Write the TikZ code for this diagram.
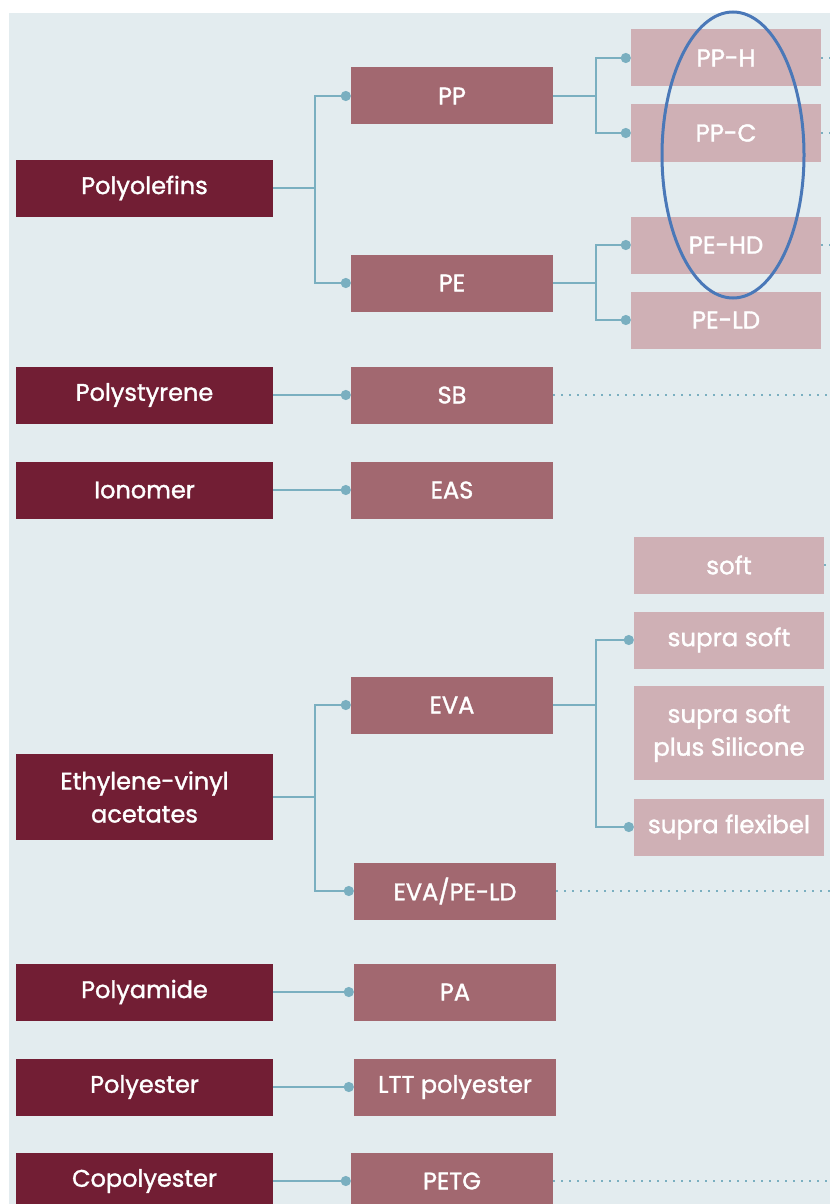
\documentclass[tikz,border=0pt]{standalone}
\usepackage{fontspec}
\setmainfont{Poppins}
\newfontfamily\boxfont[FakeBold=1.4]{Poppins}
\usetikzlibrary{arrows.meta}

\definecolor{pagebg}{HTML}{E3ECEF}
\definecolor{classdark}{HTML}{721E34}
\definecolor{typemid}{HTML}{A26870}
\definecolor{gradelight}{HTML}{CFB0B5}
\definecolor{linkteal}{HTML}{7AAFC0}
\definecolor{ringblue}{HTML}{4A78B8}

\begin{document}
\begin{tikzpicture}[x=1pt,y=-1pt,
    family/.style={fill=classdark, text=white, minimum width=257pt, minimum height=57pt,
      inner sep=0pt, align=center, font=\boxfont\fontsize{24}{33}\selectfont},
    polymer/.style={fill=typemid, text=white, minimum width=202pt, minimum height=57pt,
      inner sep=0pt, align=center, font=\boxfont\fontsize{24}{33}\selectfont},
    grade/.style={fill=gradelight, text=white, minimum width=190pt, minimum height=57pt,
      inner sep=0pt, align=center, font=\boxfont\fontsize{24.5}{33}\selectfont},
    link/.style={draw=linkteal, line width=2.5pt, -{Circle[length=10pt]}},
    trail/.style={draw=linkteal, line width=2pt, dash pattern=on 1.5pt off 6.5pt},
    ring/.style={draw=ringblue, line width=3pt}]
    \useasboundingbox (0,0) rectangle (830,1204);
    \fill[pagebg] (9,13) rectangle (830,1204);
    \coordinate (edge) at (830,0);

    % families
    \node[family] (polyolefins) at (144.5,188) {Polyolefins};
    \node[family] (polystyrene) at (144.5,395) {Polystyrene};
    \node[family] (ionomer) at (144.5,490) {Ionomer};
    \node[family, minimum height=86pt] (evafam) at (144.5,797) {Ethylene-vinyl\\acetates};
    \node[family] (polyamide) at (144.5,992) {Polyamide};
    \node[family] (polyester) at (144.5,1087) {Polyester};
    \node[family] (copolyester) at (144.5,1181) {Copolyester};

    % polymers
    \node[polymer] (pp) at (452,96) {PP};
    \node[polymer] (pe) at (452,283) {PE};
    \node[polymer] (sb) at (452,395) {SB};
    \node[polymer] (eas) at (452,490) {EAS};
    \node[polymer] (eva) at (452,705) {EVA};
    \node[polymer] (evapeld) at (455,891) {EVA/PE-LD};
    \node[polymer] (pa) at (455,992) {PA};
    \node[polymer] (ltt) at (455,1087) {LTT polyester};
    \node[polymer] (petg) at (452,1181) {PETG};

    % grades
    \node[grade] (pph) at (726,58) {PP-H};
    \node[grade] (ppc) at (726,133) {PP-C};
    \node[grade] (pehd) at (726,245) {PE-HD};
    \node[grade] (peld) at (726,320) {PE-LD};
    \node[grade] (soft) at (729,565) {soft};
    \node[grade] (suprasoft) at (729,640) {supra soft};
    \node[grade, minimum height=94pt] (silicone) at (729,733) {supra soft\\plus Silicone};
    \node[grade] (flexibel) at (729,827) {supra flexibel};

    % links
    \draw[link] (polyolefins.east) -- ++(42,0) |- (pp.west);
    \draw[link] (polyolefins.east) -- ++(42,0) |- (pe.west);
    \draw[link] (pp.east) -- ++(43,0) |- (pph.west);
    \draw[link] (pp.east) -- ++(43,0) |- (ppc.west);
    \draw[link] (pe.east) -- ++(43,0) |- (pehd.west);
    \draw[link] (pe.east) -- ++(43,0) |- (peld.west);
    \draw[link] (evafam.east) -- ++(42,0) |- (eva.west);
    \draw[link] (evafam.east) -- ++(42,0) |- (evapeld.west);
    \draw[link] (eva.east) -- ++(43,0) |- (suprasoft.west);
    \draw[link] (eva.east) -- ++(43,0) |- (flexibel.west);
    \foreach \a/\b in {polystyrene/sb, ionomer/eas, polyamide/pa, polyester/ltt, copolyester/petg}
        \draw[link] (\a.east) -- (\b.west);

    % continuations off the page
    \foreach \n in {pph, ppc, pehd, soft, sb, evapeld, petg}
        \draw[trail] (\n.east) -- (\n.east -| edge);

    \draw[ring] (733,155) ellipse [x radius=71pt, y radius=143pt];
\end{tikzpicture}
\end{document}
